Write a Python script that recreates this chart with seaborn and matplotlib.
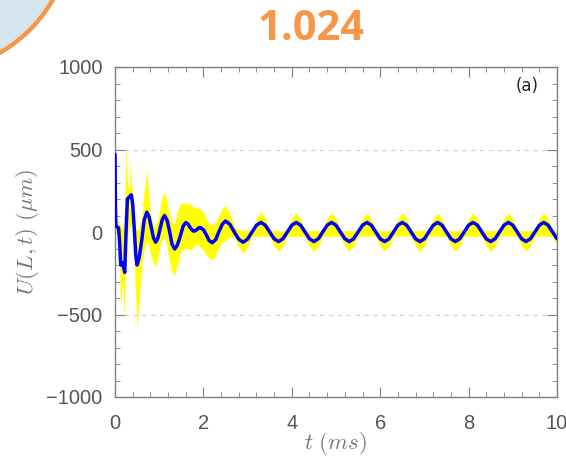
import numpy as np
import pandas as pd
import matplotlib
import matplotlib.pyplot as plt
import seaborn as sns
from matplotlib.patches import Circle
from matplotlib.transforms import IdentityTransform

# time samples (ms): dense during the transient, 0.1 ms afterwards
t_early = [0.00, 0.01, 0.02, 0.05, 0.08, 0.10, 0.13, 0.17, 0.20, 0.22,
           0.25, 0.28, 0.33, 0.35, 0.37, 0.40, 0.44, 0.47, 0.50, 0.55,
           0.61, 0.66, 0.72, 0.77, 0.82, 0.87, 0.92, 0.97, 1.02, 1.07,
           1.12, 1.18, 1.24, 1.29, 1.35, 1.41, 1.48, 1.54, 1.60, 1.65,
           1.69, 1.74, 1.78, 1.82, 1.86, 1.89, 1.93, 2.00, 2.07, 2.13,
           2.20, 2.28, 2.35, 2.43]
t_late = [2.5, 2.6, 2.7, 2.8, 2.9, 3.0, 3.1, 3.2,
          3.3, 3.4, 3.5, 3.6, 3.7, 3.8, 3.9, 4.0,
          4.1, 4.2, 4.3, 4.4, 4.5, 4.6, 4.7, 4.8,
          4.9, 5.0, 5.1, 5.2, 5.3, 5.4, 5.5, 5.6,
          5.7, 5.8, 5.9, 6.0, 6.1, 6.2, 6.3, 6.4,
          6.5, 6.6, 6.7, 6.8, 6.9, 7.0, 7.1, 7.2,
          7.3, 7.4, 7.5, 7.6, 7.7, 7.8, 7.9, 8.0,
          8.1, 8.2, 8.3, 8.4, 8.5, 8.6, 8.7, 8.8,
          8.9, 9.0, 9.1, 9.2, 9.3, 9.4, 9.5, 9.6,
          9.7, 9.8, 9.9, 10.0]

# mean displacement U(L,t) in micrometres (blue line)
u_early = [470, 150, 40, 30, 25, -40, -200, -185, -220, -245,
           0, 200, 215, 220, 225, 170, 5, -140, -200, -153,
           -40, 73, 120, 93, 29, -35, -62, -38, 19, 76,
           100, 70, -2, -73, -103, -80, -23, 34, 57, 49,
           31, 13, 5, 8, 16, 24, 27, 14, -19, -52,
           -65, -46, 1, 48]
u_late = [67, 46, 0, -44, -62, -43, 0, 41,
          58, 41, 0, -41, -58, -41, 0, 41,
          58, 41, 0, -41, -58, -41, 0, 41,
          58, 41, 0, -41, -58, -41, 0, 41,
          58, 41, 0, -41, -58, -41, 0, 41,
          58, 41, 0, -41, -58, -41, 0, 41,
          58, 41, 0, -41, -58, -41, 0, 41,
          58, 41, 0, -41, -58, -41, 0, 41,
          58, 41, 0, -41, -58, -41, 0, 41,
          58, 41, 0, -41]

# upper and lower edge of the yellow band
hi_early = [940, 120, 75, 72, 72, 50, 30, 20, 60, 150,
            534, 300, 260, 464, 300, 210, 60, 15, 12, 30,
            100, 250, 373, 200, 90, 40, 32, 80, 150, 215,
            243, 180, 100, 60, 52, 120, 173, 175, 175, 172,
            170, 160, 150, 145, 143, 143, 140, 120, 80, 50,
            45, 60, 100, 145]
hi_late = [160, 110, 30, 15, 10, 10, 10, 85,
           122, 85, 8, 8, 8, 8, 8, 82,
           116, 82, 8, 8, 8, 8, 8, 82,
           116, 82, 8, 8, 8, 8, 8, 82,
           116, 82, 8, 8, 8, 8, 8, 82,
           116, 82, 8, 8, 8, 8, 8, 82,
           116, 82, 8, 8, 8, 8, 8, 82,
           116, 82, 8, 8, 8, 8, 8, 82,
           116, 82, 8, 8, 8, 8, 8, 82,
           116, 82, 8, 8]
lo_early = [30, 0, 0, -10, -20, -150, -440, -300, -530, -350,
            -100, -20, 30, 40, 50, -30, -200, -400, -590, -400,
            -200, -108, -60, -90, -150, -190, -209, -160, -80, -40,
            -30, -90, -180, -240, -259, -200, -130, -105, -100, -105,
            -108, -100, -90, -80, -75, -80, -90, -110, -140, -160,
            -169, -140, -90, -60]
lo_late = [-50, -30, -30, -90, -128, -90, -28, -25,
           -25, -25, -25, -85, -118, -85, -25, -25,
           -25, -25, -25, -85, -118, -85, -25, -25,
           -25, -25, -25, -85, -118, -85, -25, -25,
           -25, -25, -25, -85, -118, -85, -25, -25,
           -25, -25, -25, -85, -118, -85, -25, -25,
           -25, -25, -25, -85, -118, -85, -25, -25,
           -25, -25, -25, -85, -118, -85, -25, -25,
           -25, -25, -25, -85, -118, -85, -25, -25,
           -25, -25, -25, -85]

df = pd.DataFrame({'t': t_early + t_late,
                   'u': u_early + u_late,
                   'hi': hi_early + hi_late,
                   'lo': lo_early + lo_late})

sns.set_style('ticks')
plt.rcParams['font.family'] = ['Liberation Sans', 'DejaVu Sans']
plt.rcParams['mathtext.fontset'] = 'cm'

fig = plt.figure(figsize=(5.66, 4.58), dpi=100)
W, H = 566, 458

# slide decoration in the top-left corner
fig.add_artist(Circle((-72, H + 72), 144, transform=IdentityTransform(),
                      facecolor='#d6e6f1', edgecolor='#f79646', lw=3.2))
fig.text(311 / W, 1 - 29 / H, '1.024', ha='center', va='center',
         fontsize=30, fontweight='bold', color='#f79646', family='Open Sans')

ax = fig.add_axes([115 / W, 1 - 397 / H, 442 / W, 330 / H])
ax.fill_between(df['t'], df['lo'], df['hi'], color='#ffff00', lw=0, zorder=2)
sns.lineplot(data=df, x='t', y='u', color='#0000ff', lw=2.5, ax=ax, zorder=3)

ax.set_xlim(0, 10)
ax.set_ylim(-1000, 1000)
ax.set_xticks([0, 2, 4, 6, 8, 10])
ax.set_yticks([-1000, -500, 0, 500, 1000])
ax.xaxis.set_minor_locator(matplotlib.ticker.MultipleLocator(0.4))
ax.yaxis.set_minor_locator(matplotlib.ticker.MultipleLocator(100))
ax.yaxis.grid(True, color='#cccccc', ls=(0, (4, 4)), lw=0.8)
ax.set_axisbelow(True)

ax.tick_params(which='both', direction='in', top=True, right=True,
               color='#808080', labelcolor='#555555', labelsize=14.5)
ax.tick_params(which='major', length=7)
ax.tick_params(which='minor', length=3.5)
ax.tick_params(axis='x', pad=12)
ax.tick_params(axis='y', pad=9)
for s in ax.spines.values():
    s.set_color('#808080')
    s.set_linewidth(1)

ax.set_xlabel(r'$t\ (ms)$', fontsize=16.5, color='#777777', labelpad=-2)
ax.set_ylabel(r'$U(L,t)\ (\mu m)$', fontsize=16.5, color='#777777', labelpad=4)
ax.text(0.932, 0.942, '(a)', transform=ax.transAxes, ha='center', va='center',
        fontsize=12, color='#222222', family='DejaVu Sans')

fig.savefig('out.png', dpi=100)
